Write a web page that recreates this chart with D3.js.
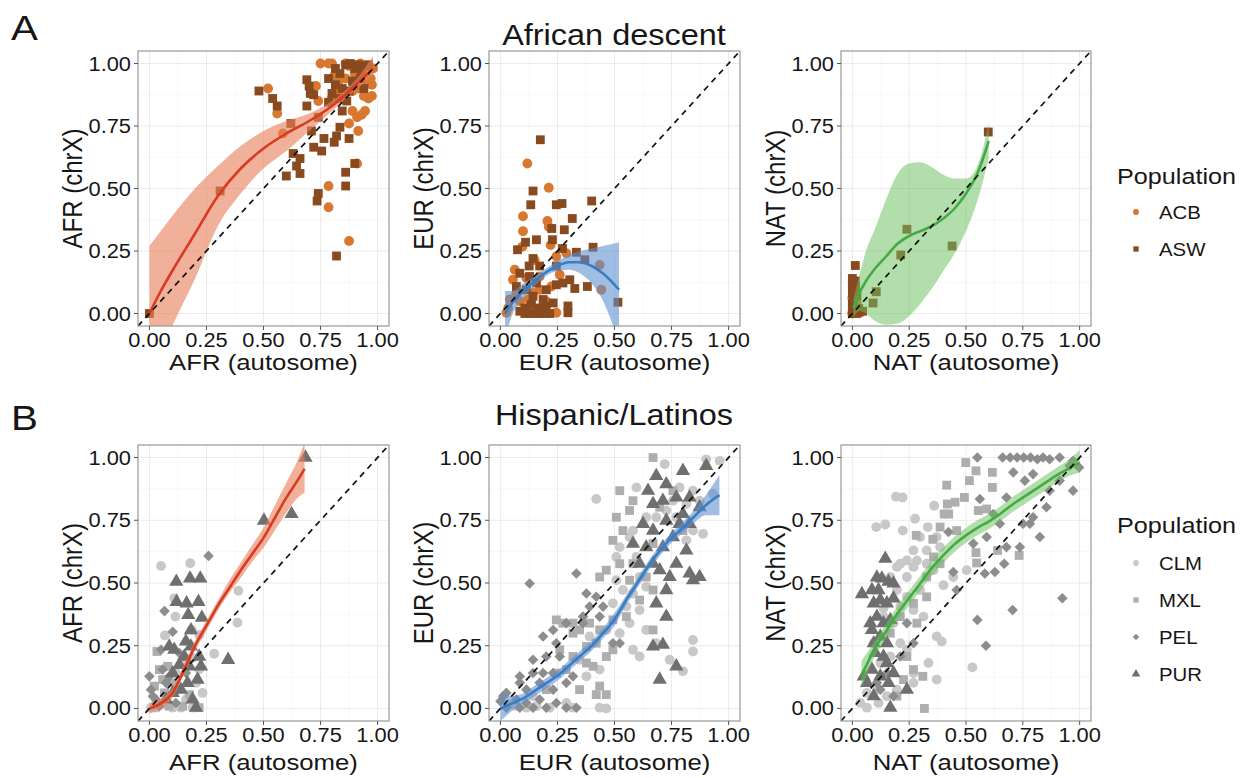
<!DOCTYPE html>
<html><head><meta charset="utf-8">
<script src="https://cdn.jsdelivr.net/npm/d3@7"></script>
<style>
body{margin:0;background:#fff}
text{font-family:"Liberation Sans",Arial,Helvetica,sans-serif;fill:#161616}
</style>
</head><body>
<svg id="chart" width="1249" height="778"></svg>
<script>
//ticks
var tickValues=[0,0.25,0.5,0.75,1];
var tickLabels=["0.00","0.25","0.50","0.75","1.00"];
var ancestries=["AFR","EUR","NAT"];
var popsA=["ACB","ASW"];
var popsB=["CLM","MXL","PEL","PUR"];

//African descent: [autosome, chrX]
var afrACB=[[0.52,0.90],[0.56,0.80],[0.585,0.72],[0.75,1.0],[0.785,1.0],[0.73,0.91],[0.74,0.85],[0.785,0.51],[0.785,0.425],[0.875,0.29],[0.875,0.76],[0.915,0.73],[0.91,0.60],[0.93,0.795],[0.945,0.81],[0.96,0.86],[0.975,0.87],[0.89,0.81],[0.91,0.785],[0.80,0.86],[0.82,0.895],[0.875,0.99],[0.90,0.96],[0.93,0.94],[0.945,0.915],[0.96,0.98],[0.97,0.94],[0.86,0.94],[0.83,0.93],[0.89,0.89],[0.915,0.90],[0.94,0.87],[0.845,0.87],[0.81,0.95],[0.80,1.0],[0.86,1.0],[0.975,0.915],[0.98,0.98],[0.925,1.0]];
var afrASW=[[0,0],[0.31,0.49],[0.48,0.89],[0.54,0.86],[0.56,0.83],[0.60,0.55],[0.62,0.76],[0.63,0.64],[0.645,0.59],[0.66,0.62],[0.66,0.56],[0.69,0.935],[0.70,0.91],[0.705,0.88],[0.72,0.875],[0.69,0.83],[0.72,0.665],[0.71,0.73],[0.735,0.45],[0.74,0.48],[0.755,0.65],[0.765,0.70],[0.74,0.785],[0.785,0.845],[0.81,0.685],[0.82,0.71],[0.82,0.23],[0.835,0.745],[0.845,0.81],[0.86,0.565],[0.86,0.51],[0.875,0.70],[0.90,0.60],[0.785,0.94],[0.815,0.98],[0.835,0.96],[0.86,0.995],[0.88,1.0],[0.89,0.93],[0.90,0.98],[0.915,0.995],[0.93,0.97],[0.945,0.99],[0.875,0.89],[0.845,0.90],[0.815,0.915],[0.80,0.88],[0.83,0.86],[0.865,0.85],[0.895,0.915],[0.925,0.94],[0.94,0.90],[0.96,0.995]];
var eurACB=[[0.118,0.60],[0.212,0.503],[0.099,0.389],[0.206,0.37],[0.212,0.347],[0.099,0.329],[0.096,0.267],[0.22,0.274],[0.15,0.214],[0.245,0.228],[0.289,0.241],[0.063,0.175],[0.055,0.135],[0.114,0.142],[0.172,0.148],[0.435,0.194],[0.442,0.095],[0.223,0.108],[0.26,0.155],[0.041,0.056],[0.07,0.082],[0.201,0.049],[0.245,0.003],[0.085,0.049],[0.026,0.003],[0.143,0.082],[0.172,0.095],[0.121,0.056],[0.034,0.022]];
var eurASW=[[0.175,0.695],[0.143,0.49],[0.133,0.435],[0.245,0.435],[0.27,0.44],[0.40,0.45],[0.315,0.38],[0.28,0.335],[0.11,0.285],[0.075,0.255],[0.158,0.295],[0.225,0.34],[0.228,0.295],[0.143,0.22],[0.126,0.19],[0.172,0.19],[0.272,0.26],[0.333,0.245],[0.406,0.265],[0.37,0.215],[0.245,0.19],[0.304,0.135],[0.326,0.10],[0.381,0.108],[0.274,0.122],[0.245,0.115],[0.515,0.045],[0.296,0.03],[0.296,0.003],[0.107,0.0],[0.128,0.0],[0.15,0.0],[0.172,0.0],[0.194,0.0],[0.216,0.0],[0.107,0.022],[0.136,0.036],[0.165,0.022],[0.201,0.029],[0.085,0.009],[0.143,0.069],[0.187,0.056],[0.114,0.095],[0.07,0.108],[0.158,0.122],[0.201,0.095],[0.231,0.042],[0.128,0.148],[0.085,0.161]];
var natACB=[[0.0,0.0],[0.006,0.016],[0.013,0.049],[0.0,0.062],[0.02,0.042],[0.003,0.095],[0.0,0.003],[0.01,0.07]];
var natASW=[[0.598,0.726],[0.24,0.337],[0.213,0.234],[0.439,0.27],[0.105,0.087],[0.091,0.042],[0.045,0.009],[0.013,0.192],[0.0,0.0],[0.0,0.03],[0.005,0.055],[0.0,0.08],[0.013,0.11],[0.0,0.12],[0.013,0.13],[0.0,0.14],[0.02,0.0],[0.005,0.01],[0.028,0.02],[0.0,0.04],[0.02,0.07],[0.013,0.095],[0.0,0.11],[0.03,0.005]];

//Hispanic/Latinos: [autosome, chrX]
var afrCLM=[[0.051,0.568],[0.179,0.579],[0.109,0.439],[0.114,0.366],[0.068,0.291],[0.186,0.313],[0.218,0.293],[0.284,0.218],[0.386,0.342],[0.39,0.469],[0.189,0.201],[0.16,0.181],[0.116,0.141],[0.204,0.102],[0.233,0.062],[0.16,0.036],[0.102,0.003],[0.029,0.003],[0.066,0.016],[0.138,0.003],[0.189,0.003],[0.007,0.003],[0.218,0.155]];
var afrMXL=[[0.033,0.227],[0.044,0.155],[0.08,0.168],[0.116,0.075],[0.066,0.062],[0.022,0.089],[0.087,0.009],[0.146,0.009],[0.029,0.016],[0.175,0.055],[0.218,0.003],[0.102,0.102],[0.058,0.115]];
var afrPEL=[[0.259,0.608],[0.066,0.388],[0.0,0.128],[0.007,0.075],[0.029,0.036],[0.051,0.234],[0.102,0.306],[0.073,0.102],[0.131,0.221],[0.16,0.141],[0.116,0.022],[0.044,0.009],[0.015,0.049],[0.058,0.155],[0.087,0.128]];
var afrPUR=[[0.684,1.0],[0.502,0.749],[0.623,0.775],[0.118,0.505],[0.178,0.518],[0.223,0.518],[0.119,0.425],[0.163,0.419],[0.215,0.425],[0.17,0.373],[0.23,0.362],[0.087,0.247],[0.109,0.234],[0.16,0.267],[0.182,0.247],[0.218,0.207],[0.226,0.168],[0.153,0.207],[0.211,0.115],[0.167,0.102],[0.102,0.141],[0.138,0.075],[0.189,0.036],[0.204,0.003],[0.345,0.194],[0.102,0.062],[0.073,0.036],[0.131,0.174],[0.182,0.312],[0.175,0.168]];

var eurCLM=[[0.72,0.974],[0.961,0.987],[0.902,0.993],[0.596,0.881],[0.42,0.835],[0.844,0.868],[0.785,0.881],[0.756,0.828],[0.815,0.815],[0.873,0.828],[0.931,0.855],[0.727,0.789],[0.683,0.762],[0.639,0.762],[0.771,0.762],[0.844,0.709],[0.888,0.696],[0.815,0.67],[0.581,0.709],[0.566,0.683],[0.523,0.643],[0.508,0.604],[0.61,0.524],[0.639,0.485],[0.581,0.458],[0.552,0.406],[0.61,0.392],[0.566,0.34],[0.639,0.313],[0.683,0.26],[0.581,0.234],[0.61,0.207],[0.523,0.30],[0.537,0.472],[0.493,0.419],[0.508,0.511],[0.596,0.604],[0.844,0.273],[0.844,0.227],[0.80,0.148],[0.742,0.194],[0.464,0.313],[0.391,0.287],[0.435,0.155],[0.347,0.194],[0.377,0.128],[0.041,0.016],[0.07,0.009],[0.114,0.003],[0.158,0.009],[0.216,0.003],[0.435,0.003],[0.464,0.0],[0.318,0.003],[0.289,0.022],[0.143,0.049]];
var eurMXL=[[0.669,1.0],[0.523,0.868],[0.581,0.828],[0.698,0.802],[0.756,0.868],[0.80,0.709],[0.566,0.789],[0.508,0.762],[0.669,0.657],[0.537,0.709],[0.493,0.67],[0.464,0.551],[0.435,0.524],[0.523,0.577],[0.581,0.577],[0.639,0.524],[0.566,0.511],[0.669,0.472],[0.552,0.366],[0.61,0.432],[0.669,0.313],[0.493,0.353],[0.435,0.313],[0.391,0.34],[0.42,0.26],[0.347,0.313],[0.318,0.34],[0.274,0.34],[0.245,0.353],[0.318,0.30],[0.318,0.207],[0.377,0.247],[0.406,0.168],[0.464,0.207],[0.493,0.234],[0.42,0.055],[0.464,0.055],[0.435,0.089],[0.26,0.234],[0.289,0.155],[0.377,0.181],[0.201,0.075],[0.245,0.141],[0.347,0.075]];
var eurPEL=[[0.333,0.538],[0.128,0.498],[0.377,0.458],[0.42,0.445],[0.45,0.406],[0.391,0.406],[0.362,0.366],[0.289,0.34],[0.231,0.313],[0.187,0.287],[0.245,0.26],[0.143,0.194],[0.201,0.207],[0.26,0.207],[0.187,0.141],[0.143,0.141],[0.085,0.102],[0.114,0.075],[0.172,0.102],[0.231,0.075],[0.289,0.102],[0.245,0.022],[0.201,0.003],[0.143,0.003],[0.085,0.003],[0.026,0.003],[0.0,0.029],[0.026,0.062],[0.07,0.036],[0.114,0.022],[0.172,0.036],[0.289,0.003],[0.333,0.003],[0.362,0.34],[0.435,0.366],[0.493,0.26],[0.523,0.26],[0.231,0.141],[0.318,0.128],[0.085,0.128],[0.012,0.049]];
var eurPUR=[[0.647,0.868],[0.683,0.927],[0.80,0.947],[0.902,0.967],[0.727,0.894],[0.771,0.841],[0.712,0.828],[0.669,0.815],[0.829,0.841],[0.873,0.802],[0.80,0.775],[0.727,0.749],[0.829,0.736],[0.669,0.709],[0.756,0.683],[0.712,0.643],[0.815,0.630],[0.639,0.643],[0.771,0.577],[0.829,0.538],[0.844,0.511],[0.873,0.524],[0.742,0.524],[0.698,0.551],[0.669,0.577],[0.61,0.577],[0.727,0.472],[0.683,0.419],[0.727,0.366],[0.712,0.254],[0.669,0.247],[0.698,0.115],[0.771,0.168],[0.581,0.657],[0.625,0.736],[0.785,0.736]];

var natCLM=[[0.192,0.844],[0.221,0.841],[0.105,0.723],[0.145,0.733],[0.222,0.709],[0.36,0.808],[0.276,0.756],[0.332,0.723],[0.371,0.683],[0.298,0.683],[0.386,0.643],[0.269,0.63],[0.327,0.63],[0.357,0.551],[0.269,0.564],[0.24,0.524],[0.211,0.577],[0.298,0.472],[0.24,0.445],[0.196,0.472],[0.269,0.392],[0.211,0.406],[0.181,0.34],[0.313,0.366],[0.371,0.287],[0.393,0.267],[0.335,0.181],[0.269,0.141],[0.371,0.115],[0.528,0.164],[0.211,0.26],[0.24,0.234],[0.167,0.207],[0.123,0.181],[0.094,0.26],[0.137,0.366],[0.137,0.399],[0.035,0.022],[0.064,0.003],[0.115,0.022],[0.152,0.049],[0.196,0.075],[0.269,0.102],[0.108,0.075],[0.064,0.062],[0.167,0.524],[0.196,0.564],[0.24,0.59],[0.284,0.59],[0.327,0.577],[0.401,0.491],[0.444,0.524],[0.503,0.551]];
var natMXL=[[0.499,0.98],[0.544,0.947],[0.515,0.908],[0.616,0.941],[0.415,0.89],[0.616,0.881],[0.493,0.841],[0.452,0.822],[0.418,0.815],[0.404,0.775],[0.424,0.775],[0.281,0.69],[0.354,0.674],[0.386,0.723],[0.554,0.789],[0.591,0.795],[0.544,0.621],[0.547,0.58],[0.734,0.61],[0.639,0.63],[0.357,0.604],[0.327,0.524],[0.31,0.128],[0.317,0.0],[0.459,0.709],[0.386,0.577],[0.327,0.445],[0.269,0.419],[0.211,0.366],[0.167,0.30],[0.24,0.207],[0.269,0.155],[0.196,0.049],[0.225,0.115],[0.284,0.34]];
var natPEL=[[0.55,1.0],[0.661,1.0],[0.694,1.0],[0.725,1.0],[0.754,1.0],[0.784,1.0],[0.814,0.993],[0.839,1.0],[0.868,0.993],[0.912,1.0],[0.971,0.987],[0.956,0.967],[0.998,0.96],[0.708,0.941],[0.759,0.908],[0.795,0.934],[0.868,0.868],[0.912,0.908],[0.971,0.868],[0.854,0.802],[0.795,0.762],[0.751,0.736],[0.678,0.841],[0.62,0.775],[0.649,0.736],[0.561,0.835],[0.591,0.683],[0.532,0.657],[0.583,0.538],[0.627,0.544],[0.668,0.577],[0.444,0.544],[0.423,0.703],[0.781,0.736],[0.924,0.439],[0.705,0.392],[0.55,0.353],[0.588,0.25],[0.737,0.643],[0.678,0.643],[0.459,0.472],[0.825,0.683],[0.24,0.34],[0.269,0.26],[0.211,0.207],[0.152,0.141],[0.108,0.102],[0.181,0.049],[0.123,0.075]];
var natPUR=[[0.145,0.597],[0.042,0.456],[0.086,0.472],[0.108,0.522],[0.13,0.518],[0.159,0.505],[0.181,0.498],[0.094,0.419],[0.123,0.432],[0.152,0.419],[0.181,0.439],[0.108,0.366],[0.137,0.34],[0.167,0.353],[0.086,0.313],[0.123,0.287],[0.101,0.221],[0.137,0.207],[0.086,0.155],[0.123,0.128],[0.064,0.102],[0.159,0.102],[0.24,0.075],[0.167,0.003],[0.094,0.049],[0.05,0.128],[0.115,0.472],[0.094,0.26],[0.152,0.26],[0.079,0.34],[0.152,0.181],[0.181,0.141]];

//loess fits: x, fit, lower, upper
var fitAfrA={x:[0,0.05,0.1,0.2,0.3,0.4,0.5,0.6,0.7,0.8,0.9,0.98],y:[0,0.09,0.17,0.32,0.47,0.58,0.66,0.72,0.77,0.83,0.91,0.98],lo:[-0.27,-0.15,-0.05,0.14,0.35,0.48,0.58,0.65,0.73,0.81,0.89,0.95],hi:[0.27,0.33,0.39,0.5,0.59,0.67,0.73,0.77,0.8,0.85,0.93,1.03]};
var fitEurA={x:[0.02,0.05,0.1,0.15,0.2,0.25,0.3,0.35,0.4,0.45,0.52],y:[0.0,0.04,0.09,0.13,0.165,0.19,0.205,0.205,0.19,0.16,0.095],lo:[-0.1,-0.01,0.06,0.11,0.15,0.17,0.175,0.16,0.12,0.05,-0.12],hi:[0.09,0.09,0.12,0.15,0.18,0.21,0.235,0.25,0.26,0.27,0.285]};
var fitNatA={x:[0.005,0.03,0.06,0.1,0.15,0.2,0.25,0.3,0.35,0.4,0.45,0.5,0.55,0.6],y:[0.02,0.08,0.13,0.18,0.23,0.28,0.31,0.33,0.35,0.38,0.42,0.48,0.56,0.69],lo:[-0.02,0.01,0.0,-0.03,-0.045,-0.04,-0.01,0.04,0.1,0.17,0.24,0.33,0.45,0.62],hi:[0.06,0.15,0.25,0.34,0.46,0.56,0.6,0.605,0.585,0.555,0.54,0.54,0.59,0.76]};
var fitAfrB={x:[0,0.05,0.1,0.15,0.2,0.25,0.3,0.35,0.4,0.45,0.5,0.55,0.6,0.65,0.68],y:[0,0.02,0.06,0.15,0.25,0.33,0.41,0.48,0.55,0.615,0.68,0.76,0.84,0.91,0.955],lo:[-0.02,0.0,0.04,0.13,0.23,0.31,0.39,0.46,0.52,0.585,0.64,0.71,0.78,0.84,0.86],hi:[0.02,0.04,0.08,0.17,0.27,0.35,0.43,0.51,0.58,0.65,0.72,0.81,0.9,0.99,1.06]};
var fitEurB={x:[0,0.05,0.1,0.15,0.2,0.25,0.3,0.35,0.4,0.45,0.5,0.55,0.6,0.65,0.7,0.75,0.8,0.85,0.9,0.96],y:[0.0,0.02,0.04,0.07,0.1,0.13,0.17,0.21,0.25,0.3,0.355,0.43,0.5,0.57,0.63,0.68,0.72,0.765,0.81,0.85],lo:[-0.05,-0.01,0.02,0.05,0.08,0.11,0.15,0.19,0.23,0.28,0.33,0.41,0.48,0.55,0.61,0.66,0.7,0.74,0.77,0.77],hi:[0.06,0.05,0.06,0.09,0.12,0.15,0.19,0.23,0.27,0.32,0.38,0.45,0.52,0.59,0.65,0.7,0.745,0.79,0.85,0.93]};
var fitNatB={x:[0.04,0.1,0.15,0.2,0.25,0.3,0.35,0.4,0.45,0.5,0.55,0.6,0.65,0.7,0.75,0.8,0.85,0.9,0.95,1.0],y:[0.13,0.24,0.31,0.38,0.44,0.5,0.56,0.61,0.655,0.69,0.72,0.745,0.775,0.81,0.84,0.87,0.9,0.93,0.955,0.98],lo:[0.08,0.21,0.28,0.35,0.41,0.47,0.53,0.58,0.625,0.66,0.69,0.715,0.745,0.78,0.81,0.84,0.87,0.9,0.925,0.94],hi:[0.19,0.27,0.34,0.41,0.47,0.53,0.59,0.64,0.685,0.72,0.75,0.775,0.805,0.84,0.87,0.9,0.93,0.96,0.99,1.03]};

var SX=1.12; //text is drawn a bit wide in the original
var svg=d3.select("#chart");
svg.append("rect").attr("width",1249).attr("height",778).attr("fill","#fff");

var popColor={ACB:"#D8772F",ASW:"#8A4A20",CLM:"#C8C8C8",MXL:"#AEAEAE",PEL:"#8D8D8D",PUR:"#6F6F6F"};
var popShape={ACB:"circle",ASW:"square",CLM:"circle",MXL:"square",PEL:"diamond",PUR:"triangle"};
var fitStyle={AFR:{line:"#D83A22",fill:"#E9805A",op:0.62},EUR:{line:"#3A7DC0",fill:"#5B8FD0",op:0.58},NAT:{line:"#45AA45",fill:"#6CBF5E",op:0.52}};

var cols=[[138,389],[489,740],[841,1091]];
var rows=[[51,326],[445,721]];
var titleGap=[44,49];

function label(g,x,y,str,size,anchor,rot){
    var tr="translate("+x+","+y+")"+(rot?" rotate(-90) scale(1,"+SX+")":" scale("+SX+",1)");
    return g.append("text").attr("transform",tr).attr("font-size",size).attr("text-anchor",anchor||"start").text(str);
}

function symbolPath(shape,big){
    var k=big?1:0.36;
    if(shape=="circle"){return d3.symbol(d3.symbolCircle,76*k)();}
    if(shape=="square"){return d3.symbol(d3.symbolSquare,78*k)();}
    if(shape=="triangle"){return d3.symbol(d3.symbolTriangle,88*k)();}
    return d3.symbol(d3.symbolSquare,56*k)();
}

function drawPoints(g,pts,pop,x,y){
    g.selectAll(null).data(pts).enter().append("path")
        .attr("d",symbolPath(popShape[pop],true))
        .attr("transform",function(d){return "translate("+x(d[0])+","+y(d[1])+")"+(popShape[pop]=="diamond"?" rotate(45)":"");})
        .attr("fill",popColor[pop]);
}

var clipN=0;
function panel(ci,ri,anc,groups,fit){
    var x=d3.scaleLinear().domain([-0.05,1.05]).range(cols[ci]);
    var y=d3.scaleLinear().domain([-0.05,1.05]).range([rows[ri][1],rows[ri][0]]);
    var L=cols[ci][0],R=cols[ci][1],T=rows[ri][0],B=rows[ri][1];
    var g=svg.append("g");
    var id="clip"+(clipN++);
    g.append("clipPath").attr("id",id).append("rect").attr("x",L).attr("y",T).attr("width",R-L).attr("height",B-T);
    //grid
    var minor=[0.125,0.375,0.625,0.875];
    minor.forEach(function(v){
        g.append("line").attr("x1",x(v)).attr("x2",x(v)).attr("y1",T).attr("y2",B).attr("stroke","#F4F4F4").attr("stroke-width",0.6);
        g.append("line").attr("y1",y(v)).attr("y2",y(v)).attr("x1",L).attr("x2",R).attr("stroke","#F4F4F4").attr("stroke-width",0.6);
    });
    tickValues.forEach(function(v){
        g.append("line").attr("x1",x(v)).attr("x2",x(v)).attr("y1",T).attr("y2",B).attr("stroke","#EBEBEB").attr("stroke-width",1);
        g.append("line").attr("y1",y(v)).attr("y2",y(v)).attr("x1",L).attr("x2",R).attr("stroke","#EBEBEB").attr("stroke-width",1);
    });
    var inner=g.append("g").attr("clip-path","url(#"+id+")");
    groups.forEach(function(gr){drawPoints(inner,gr[1],gr[0],x,y);});
    //smooth
    var st=fitStyle[anc];
    var rows2=fit.x.map(function(v,i){return {x:v,y:fit.y[i],lo:fit.lo[i],hi:fit.hi[i]};});
    inner.append("path").datum(rows2)
        .attr("d",d3.area().x(function(d){return x(d.x);}).y0(function(d){return y(d.lo);}).y1(function(d){return y(d.hi);}).curve(d3.curveMonotoneX))
        .attr("fill",st.fill).attr("opacity",st.op);
    inner.append("path").datum(rows2)
        .attr("d",d3.line().x(function(d){return x(d.x);}).y(function(d){return y(d.y);}).curve(d3.curveMonotoneX))
        .attr("fill","none").attr("stroke",st.line).attr("stroke-width",2.6);
    //identity line
    inner.append("line").attr("x1",x(-0.05)).attr("y1",y(-0.05)).attr("x2",x(1.05)).attr("y2",y(1.05))
        .attr("stroke","#111").attr("stroke-width",1.7).attr("stroke-dasharray","6,5");
    g.append("rect").attr("x",L).attr("y",T).attr("width",R-L).attr("height",B-T).attr("fill","none").attr("stroke","#8E8E8E").attr("stroke-width",1.1);
    //axes
    tickValues.forEach(function(v,i){
        g.append("line").attr("x1",L-4).attr("x2",L).attr("y1",y(v)).attr("y2",y(v)).attr("stroke","#555");
        g.append("line").attr("y1",B).attr("y2",B+4).attr("x1",x(v)).attr("x2",x(v)).attr("stroke","#555");
        label(g,L-7,y(v)+7,tickLabels[i],19.5,"end");
        label(g,x(v),B+21,tickLabels[i],19.5,"middle");
    });
    label(g,(L+R)/2,B+titleGap[ri],anc+" (autosome)",23,"middle");
    label(g,L-56,(T+B)/2,anc+" (chrX)",24,"middle",true);
}

panel(0,0,"AFR",[["ACB",afrACB],["ASW",afrASW]],fitAfrA);
panel(1,0,"EUR",[["ACB",eurACB],["ASW",eurASW]],fitEurA);
panel(2,0,"NAT",[["ACB",natACB],["ASW",natASW]],fitNatA);
panel(0,1,"AFR",[["CLM",afrCLM],["MXL",afrMXL],["PEL",afrPEL],["PUR",afrPUR]],fitAfrB);
panel(1,1,"EUR",[["CLM",eurCLM],["MXL",eurMXL],["PEL",eurPEL],["PUR",eurPUR]],fitEurB);
panel(2,1,"NAT",[["CLM",natCLM],["MXL",natMXL],["PEL",natPEL],["PUR",natPUR]],fitNatB);

//titles
label(svg,614,45,"African descent",29,"middle");
label(svg,614,425,"Hispanic/Latinos",29,"middle");
label(svg,11,40,"A",36,"start");
label(svg,11,430,"B",36,"start");

//legends
function legend(top,pops,first,step){
    label(svg,1117,top,"Population",22.5,"start");
    pops.forEach(function(p,i){
        var cy=first+i*step;
        svg.append("path").attr("d",symbolPath(popShape[p],false))
            .attr("transform","translate(1136,"+cy+")"+(popShape[p]=="diamond"?" rotate(45)":""))
            .attr("fill",popColor[p]);
        label(svg,1159,cy+6.5,p,18.2,"start");
    });
}
legend(184,popsA,212,37);
legend(533,popsB,563,37);
</script>
</body></html>
